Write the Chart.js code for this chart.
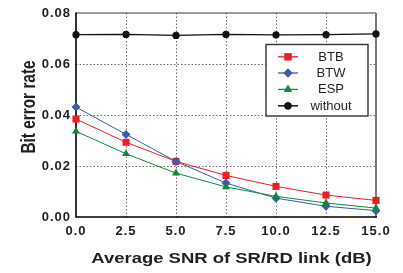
<!DOCTYPE html>
<html>
<head>
<meta charset="utf-8">
<script src="https://cdn.jsdelivr.net/npm/chart.js@4/dist/chart.umd.min.js"></script>
<style>
html,body{margin:0;padding:0;background:#fff;}
#wrap{width:403px;height:273px;position:relative;}
</style>
</head>
<body>
<div id="wrap"><canvas id="c" width="403" height="273"></canvas></div>
<script>
// ---- data ----
const snr = [0, 2.5, 5, 7.5, 10, 12.5, 15];
const btb = [0.0384, 0.0293, 0.0218, 0.0163, 0.0120, 0.0086, 0.0065];
const btw = [0.0431, 0.0324, 0.0218, 0.0133, 0.0074, 0.0042, 0.0025];
const esp = [0.0336, 0.0248, 0.0172, 0.0118, 0.0081, 0.0055, 0.0035];
const without = [0.0715, 0.0716, 0.0712, 0.0716, 0.0714, 0.0715, 0.0718];
const xTickLabels = ['0.0', '2.5', '5.0', '7.5', '10.0', '12.5', '15.0'];
const yTickLabels = ['0.00', '0.02', '0.04', '0.06', '0.08'];
const seriesNames = ['BTB', 'BTW', 'ESP', 'without'];
const xTitle = 'Average SNR of SR/RD link (dB)';
const yTitle = 'Bit error rate';

const TXT = '#231f20';
const pts = a => a.map((v, i) => ({x: snr[i], y: v}));

const styles = [
  {c: '#ee1c25', p: 'rect', r: 5, bw: 1},
  {c: '#3d5ba9', p: 'rectRot', r: 4.5, bw: 1},
  {c: '#0d8a3e', p: 'triangle', r: 4.6, bw: 1},
  {c: '#111111', p: 'circle', r: 3.6, bw: 1.2}
];
const vals = [btb, btw, esp, without];
const datasets = vals.map((v, i) => ({
  label: seriesNames[i],
  data: pts(v),
  borderColor: styles[i].c,
  backgroundColor: styles[i].c,
  pointBackgroundColor: styles[i].c,
  pointBorderColor: styles[i].c,
  pointBorderWidth: 0,
  borderWidth: styles[i].bw,
  pointStyle: styles[i].p,
  pointRadius: styles[i].r,
  tension: 0,
  clip: false
})).reverse();

const gridColor = (n) => (ctx) => (ctx.index === 0 || ctx.index === n) ? 'rgba(0,0,0,0)' : '#6b6b6b';

const textPlugin = {
  id: 'texts',
  beforeDraw(chart) { chart.ctx.letterSpacing = '1px'; },
  beforeDatasetsDraw(chart) {
    const {ctx, chartArea: a} = chart;
    ctx.save();
    ctx.letterSpacing = '0px';
    ctx.lineCap = 'butt';
    // top
    ctx.strokeStyle = '#3a3a3a'; ctx.lineWidth = 1.2;
    ctx.beginPath(); ctx.moveTo(a.left, a.top); ctx.lineTo(a.right, a.top); ctx.stroke();
    // right
    ctx.strokeStyle = '#7a7a7a'; ctx.lineWidth = 2;
    ctx.beginPath(); ctx.moveTo(a.right, a.top); ctx.lineTo(a.right, a.bottom); ctx.stroke();
    // left & bottom
    ctx.strokeStyle = '#000'; ctx.lineWidth = 1.6;
    ctx.beginPath(); ctx.moveTo(a.left, a.top - 0.6); ctx.lineTo(a.left, a.bottom); ctx.lineTo(a.right + 1, a.bottom); ctx.stroke();
    ctx.restore();
  },
  afterDraw(chart) {
    const {ctx, chartArea: a} = chart;
    ctx.save();
    ctx.letterSpacing = '0px';
    ctx.fillStyle = TXT;
    // x title
    ctx.save();
    ctx.font = 'bold 15.4px "Liberation Sans", Arial, sans-serif';
    ctx.textAlign = 'center'; ctx.textBaseline = 'alphabetic';
    ctx.translate(231.5, 262.7);
    ctx.scale(1.2, 1);
    ctx.fillText(xTitle, 0, 0);
    ctx.restore();
    // y title
    ctx.save();
    ctx.font = 'bold 15.4px "Liberation Sans", Arial, sans-serif';
    ctx.textAlign = 'center'; ctx.textBaseline = 'alphabetic';
    ctx.translate(34.5, 107);
    ctx.scale(1.3, 1);
    ctx.rotate(-Math.PI / 2);
    ctx.fillText(yTitle, 0, 0);
    ctx.restore();

    // legend box
    const bx = 266, by = 44.5, bw = 102, bh = 71.5;
    ctx.fillStyle = '#fff';
    ctx.fillRect(bx, by, bw, bh);
    ctx.strokeStyle = '#333'; ctx.lineWidth = 1.4;
    ctx.strokeRect(bx, by, bw, bh);
    const rows = [56.8, 73.0, 89.4, 105.8];
    ctx.font = '13px "Liberation Sans", Arial, sans-serif';
    ctx.textAlign = 'center'; ctx.textBaseline = 'middle';
    seriesNames.forEach((name, i) => {
      const s = styles[i];
      const y = rows[i];
      ctx.strokeStyle = s.c; ctx.lineWidth = s.bw + 0.3;
      ctx.beginPath(); ctx.moveTo(278, y); ctx.lineTo(298, y); ctx.stroke();
      ctx.fillStyle = s.c;
      Chart.helpers.drawPoint(ctx, {pointStyle: s.p, radius: s.r, borderWidth: 0, rotation: 0}, 288, y);
      ctx.fill();
      ctx.fillStyle = TXT;
      ctx.fillText(name, 331, y + 0.5);
    });
    ctx.restore();
    ctx.letterSpacing = '0px';
  }
};

new Chart(document.getElementById('c'), {
  type: 'line',
  data: {datasets},
  options: {
    responsive: false,
    animation: false,
    devicePixelRatio: 1,
    layout: {padding: {left: 0, right: 27, top: 13, bottom: 0}},
    plugins: {legend: {display: false}, tooltip: {enabled: false}},
    scales: {
      x: {
        type: 'linear', min: 0, max: 15,
        afterFit: s => { s.height = 56; },
        afterBuildTicks: s => { s.ticks = snr.map(v => ({value: v})); },
        ticks: {
          callback: (v, i) => xTickLabels[i],
          font: {family: '"Liberation Sans", Arial, sans-serif', size: 13, weight: 'bold'},
          color: TXT, padding: 7, maxRotation: 0, autoSkip: false
        },
        grid: {color: gridColor(6), lineWidth: 1, drawTicks: false},
        border: {display: false, dash: [1.5, 2]}
      },
      y: {
        type: 'linear', min: 0, max: 0.08,
        afterFit: s => { s.width = 76; },
        afterBuildTicks: s => { s.ticks = yTickLabels.map(t => ({value: parseFloat(t)})); },
        ticks: {
          callback: (v, i) => yTickLabels[i],
          font: {family: '"Liberation Sans", Arial, sans-serif', size: 13, weight: 'bold'},
          color: TXT, padding: 5, autoSkip: false
        },
        grid: {color: gridColor(4), lineWidth: 1, drawTicks: false},
        border: {display: false, dash: [1.5, 2]}
      }
    }
  },
  plugins: [textPlugin]
});
</script>
</body>
</html>
